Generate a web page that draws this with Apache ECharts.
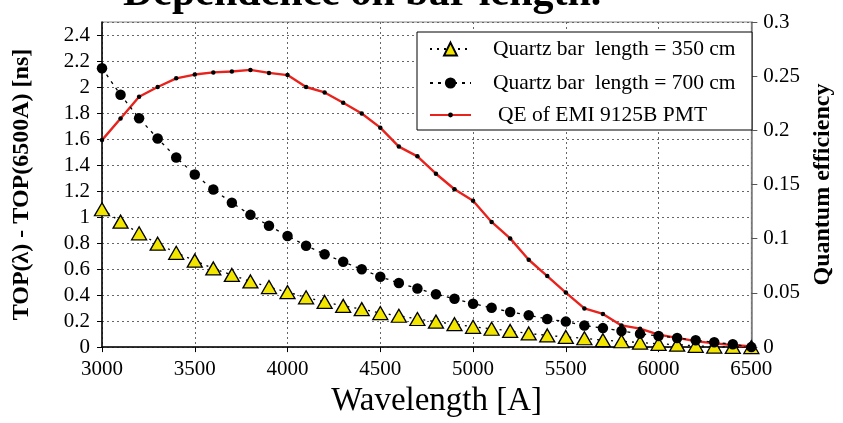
<!DOCTYPE html>
<html>
<head>
<meta charset="utf-8">
<script src="https://cdn.jsdelivr.net/npm/echarts@6/dist/echarts.min.js"></script>
<style>
  html, body { margin: 0; padding: 0; background: #fff; }
  #chart { width: 843px; height: 423px; }
</style>
</head>
<body>
<div id="chart"></div>
<script>
// Wavelength samples [A]
const wavelengths = [3000, 3100, 3200, 3300, 3400, 3500, 3600, 3700, 3800, 3900,
  4000, 4100, 4200, 4300, 4400, 4500, 4600, 4700, 4800, 4900,
  5000, 5100, 5200, 5300, 5400, 5500, 5600, 5700, 5800, 5900,
  6000, 6100, 6200, 6300, 6400, 6500];

// TOP(lambda) - TOP(6500A) [ns], 350 cm bar
const top350 = [1.06, 0.965, 0.875, 0.795, 0.725, 0.665, 0.605, 0.555, 0.505, 0.462,
  0.422, 0.383, 0.347, 0.317, 0.292, 0.262, 0.241, 0.216, 0.196, 0.176,
  0.156, 0.141, 0.124, 0.105, 0.09, 0.078, 0.068, 0.053, 0.045, 0.035,
  0.025, 0.019, 0.01, 0.004, 0.001, 0];

// TOP(lambda) - TOP(6500A) [ns], 700 cm bar
const top700 = [2.145, 1.94, 1.76, 1.604, 1.458, 1.327, 1.212, 1.11, 1.017, 0.933,
  0.855, 0.78, 0.714, 0.656, 0.598, 0.541, 0.493, 0.45, 0.407, 0.372,
  0.334, 0.302, 0.27, 0.245, 0.216, 0.196, 0.166, 0.146, 0.124, 0.102,
  0.086, 0.07, 0.053, 0.037, 0.022, 0];

// Quantum efficiency of the EMI 9125B photomultiplier
const qe = [0.191, 0.211, 0.231, 0.240, 0.248, 0.2515, 0.2535, 0.2543, 0.2558, 0.253,
  0.251, 0.240, 0.235, 0.2255, 0.2155, 0.2025, 0.185, 0.176, 0.160, 0.1457,
  0.135, 0.1155, 0.1003, 0.0806, 0.0655, 0.0503, 0.0357, 0.0306, 0.020, 0.017,
  0.0115, 0.0085, 0.0055, 0.0034, 0.002, 0.0006];

const names = ['Quartz bar  length = 350 cm', 'Quartz bar  length = 700 cm', 'QE of EMI 9125B PMT'];
const titleText = 'Dependence on bar length.';
const xName = 'Wavelength [A]';
const yLeftName = 'TOP(\u03bb) - TOP(6500A) [ns]';
const yRightName = 'Quantum efficiency';

const serif = '"Liberation Serif", "DejaVu Serif", serif';
const pairs = arr => wavelengths.map((w, i) => [w, arr[i]]);

const chart = echarts.init(document.getElementById('chart'), null, { renderer: 'canvas' });

const legendText = { fontFamily: serif, fontSize: 21.5, color: '#000', lineHeight: 20, padding: [0, 0, 0, 17] };
const legendBase = {
  orient: 'vertical',
  padding: 0,
  itemWidth: 41,
  textStyle: legendText,
  selectedMode: false
};

chart.setOption({
  animation: false,
  backgroundColor: '#fff',
  title: {
    text: titleText,
    left: 118,
    top: -32,
    textStyle: { fontFamily: serif, fontSize: 42, fontWeight: 'bold', color: '#000' }
  },
  grid: { left: 102, right: 85, top: 22, bottom: 68, show: true, borderColor: '#888', borderWidth: 1 },
  graphic: [{
    type: 'rect', z: 3,
    shape: { x: 417, y: 32, width: 335, height: 98 },
    style: { fill: '#fff', stroke: '#000', lineWidth: 1 }
  }],
  legend: [
    Object.assign({}, legendBase, { data: [names[0]], left: 429, top: 38, itemHeight: 16 }),
    Object.assign({}, legendBase, { data: [names[1]], left: 429, top: 72, itemHeight: 14 }),
    Object.assign({}, legendBase, { data: [names[2]], left: 429, top: 104, itemHeight: 6,
      textStyle: Object.assign({}, legendText, { padding: [0, 0, 0, 22] }) })
  ],
  xAxis: {
    type: 'value', min: 3000, max: 6500, interval: 500,
    name: xName, nameLocation: 'middle', nameGap: 36,
    nameTextStyle: { fontFamily: serif, fontSize: 33, color: '#000', padding: [0, 0, 0, 20] },
    axisLine: { lineStyle: { color: '#000', width: 1.5 } },
    axisTick: { show: true, length: 5, lineStyle: { color: '#000' } },
    axisLabel: { fontFamily: serif, fontSize: 21, color: '#000', margin: 12, formatter: v => String(v) },
    splitLine: { show: true, lineStyle: { color: '#666', type: [2, 3], width: 1 } }
  },
  yAxis: [{
    type: 'value', min: 0, max: 2.5, interval: 0.2, position: 'left',
    name: yLeftName, nameLocation: 'middle', nameRotate: 90, nameGap: 68,
    nameTextStyle: { fontFamily: serif, fontSize: 24, fontWeight: 'bold', color: '#000' },
    axisLine: { show: true, lineStyle: { color: '#000', width: 1.5 } },
    axisTick: { show: true, length: 5, lineStyle: { color: '#000' } },
    axisLabel: { fontFamily: serif, fontSize: 21, color: '#000', margin: 12, showMaxLabel: false },
    splitLine: { show: true, lineStyle: { color: '#666', type: [2, 3], width: 1 } }
  }, {
    type: 'value', min: 0, max: 0.3, interval: 0.05, position: 'right',
    name: yRightName, nameLocation: 'middle', nameRotate: 90, nameGap: 54,
    nameTextStyle: { fontFamily: serif, fontSize: 24, fontWeight: 'bold', color: '#000' },
    axisLine: { show: true, lineStyle: { color: '#777', width: 1.5 } },
    axisTick: { show: true, length: 6, lineStyle: { color: '#555' } },
    axisLabel: { fontFamily: serif, fontSize: 21, color: '#000', margin: 12 },
    splitLine: { show: false }
  }],
  series: [{
    name: names[2], type: 'line', yAxisIndex: 1, z: 2,
    data: pairs(qe),
    symbol: 'circle', symbolSize: 4.5, showAllSymbol: true,
    itemStyle: { color: '#000' },
    lineStyle: { color: '#e8221c', width: 2.4 }
  }, {
    name: names[0], type: 'line', yAxisIndex: 0, z: 3,
    data: pairs(top350),
    symbol: 'triangle', symbolSize: [15, 13], showAllSymbol: true,
    itemStyle: { color: '#f2e600', borderColor: '#000', borderWidth: 1.3 },
    lineStyle: { color: '#000', width: 1.3, type: [2, 5] }
  }, {
    name: names[1], type: 'line', yAxisIndex: 0, z: 4,
    data: pairs(top700),
    symbol: 'circle', symbolSize: 10.5, showAllSymbol: true,
    itemStyle: { color: '#000' },
    lineStyle: { color: '#000', width: 1.3, type: [3, 5] }
  }]
});
</script>
</body>
</html>
